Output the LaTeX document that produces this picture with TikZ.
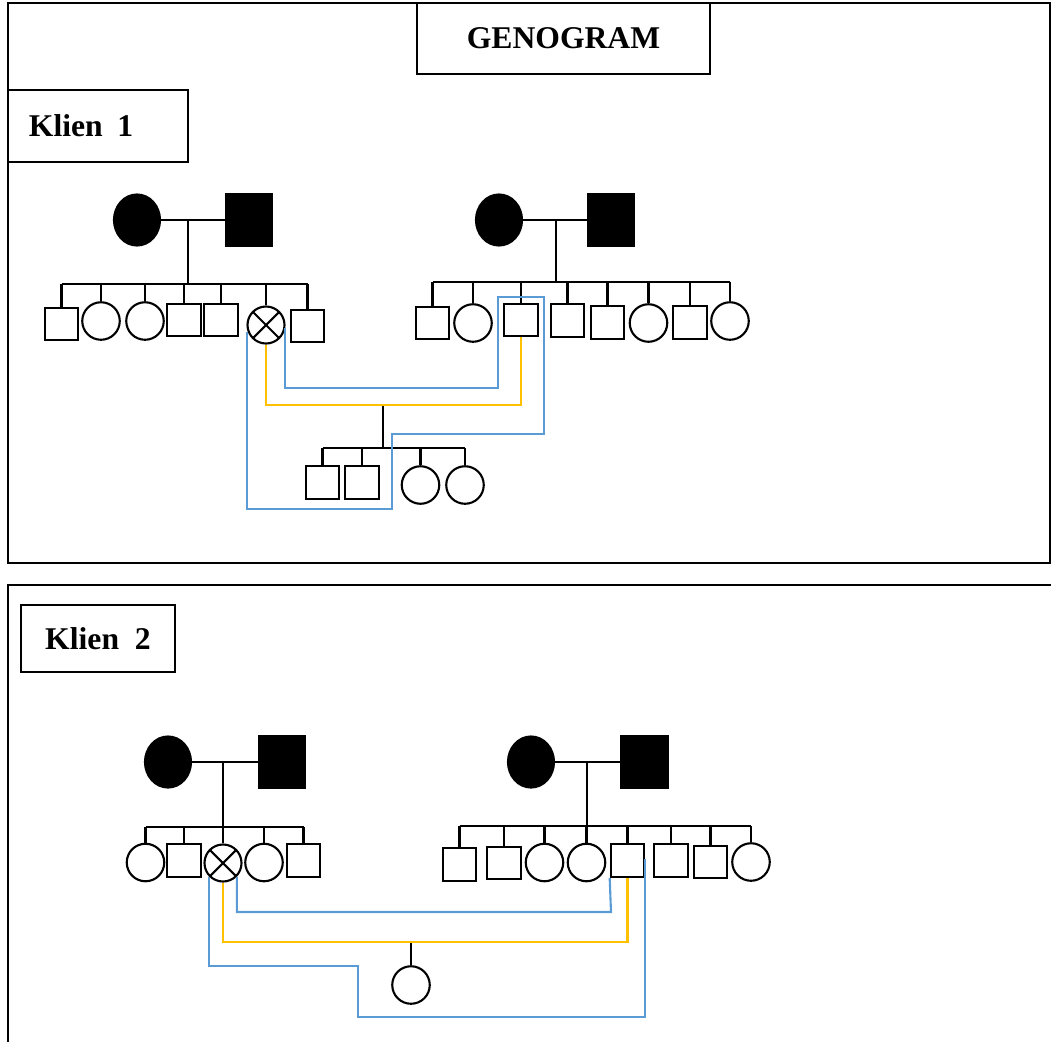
\documentclass[tikz,border=0pt]{standalone}
\usepackage{fontspec}
\setmainfont{Liberation Serif}
\usetikzlibrary{shapes.geometric}
\definecolor{linkblue}{RGB}{91,155,213}
\definecolor{linkgold}{RGB}{255,192,0}
\tikzset{person/.style={draw, line width=0.6pt, inner sep=0pt},
    male/.style={person, rectangle, minimum width=3.35mm, minimum height=3.25mm},
    female/.style={person, circle, minimum size=3.75mm},
    deadmale/.style={person, rectangle, fill=black, minimum width=4.6mm, minimum height=5.1mm},
    deadfemale/.style={person, ellipse, fill=black, minimum width=4.6mm, minimum height=5.1mm},
    client/.style={person, circle, minimum size=3.7mm,
        path picture={\draw[line width=0.6pt]
            (path picture bounding box.north west) -- (path picture bounding box.south east)
            (path picture bounding box.north east) -- (path picture bounding box.south west);}
    },
    kin/.style={line width=0.6pt},
    household/.style={draw=linkblue, line width=0.6pt},
    marriage/.style={draw=linkgold, line width=0.6pt},
    frame/.style={line width=0.7pt},
    titlebox/.style={draw, line width=0.7pt, inner sep=0pt,
        font=\fontsize{9}{11}\selectfont\bfseries}
}
\begin{document}
\begin{tikzpicture}[x=0.01cm, y=-0.01cm]
      \useasboundingbox (0,0) rectangle (1051,1042);
      \draw[frame] (8,3) rectangle (1050,563);
      \draw[frame] (1051,585) -- (8,585) -- (8,1042);
      \node[titlebox, minimum width=29.3mm, minimum height=7.1mm] (GEN) at (563.5,38.5) {GENOGRAM};
      \node[titlebox, minimum width=18mm, minimum height=7.2mm, text width=13.8mm, align=left] (K1) at (98,126) {Klien\hspace{0.46em}1};
      \node[titlebox, minimum width=15.4mm, minimum height=6.7mm] (K2) at (98,638.5) {Klien\ \ 2};

      % Klien 1
      \node[deadfemale] (F1) at (137,220) {};
      \node[deadmale] (M1) at (249,220) {};
      \node[deadfemale] (F2) at (499,220) {};
      \node[deadmale] (M2) at (611,220) {};

      \node[male] (A1) at (61.5,324) {};
      \node[female] (A2) at (101,321) {};
      \node[female] (A3) at (145,321) {};
      \node[male] (A4) at (184,320) {};
      \node[male] (A5) at (221,320) {};
      \node[client] (A6) at (266,325) {};
      \node[male] (A7) at (307.5,326) {};

      \node[male] (B1) at (432.5,323) {};
      \node[female] (B2) at (473,323) {};
      \node[male] (B3) at (521,320) {};
      \node[male] (B4) at (567.5,320.5) {};
      \node[male] (B5) at (607.5,322.5) {};
      \node[female] (B6) at (648.5,323) {};
      \node[male] (B7) at (690,322.5) {};
      \node[female] (B8) at (730,321) {};

      \node[male] (C1) at (322.5,482.5) {};
      \node[male] (C2) at (362,482.5) {};
      \node[female] (C3) at (420.5,485) {};
      \node[female] (C4) at (465,485) {};

      \coordinate (PA) at (188,220);
      \coordinate (SA) at (0,284);
      \coordinate (PB) at (556,220);
      \coordinate (SB) at (0,282);
      \coordinate (U1) at (383,405);
      \coordinate (SC) at (0,448);
      \draw[kin] (F1) -- (M1);
      \draw[kin] (PA) -- (PA |- SA);
      \draw[kin] (A1.north |- SA) -- (A7.north |- SA);
      \draw[kin] (A1.north) -- (A1.north |- SA) (A2.north) -- (A2.north |- SA)
          (A3.north) -- (A3.north |- SA) (A4.north) -- (A4.north |- SA)
          (A5.north) -- (A5.north |- SA) (A6.north) -- (A6.north |- SA)
          (A7.north) -- (A7.north |- SA);
      \draw[kin] (F2) -- (M2);
      \draw[kin] (PB) -- (PB |- SB);
      \draw[kin] (B1.north |- SB) -- (B8.north |- SB);
      \draw[kin] (B1.north) -- (B1.north |- SB) (B2.north) -- (B2.north |- SB)
          (B3.north) -- (B3.north |- SB) (B4.north) -- (B4.north |- SB)
          (B5.north) -- (B5.north |- SB) (B6.north) -- (B6.north |- SB)
          (B7.north) -- (B7.north |- SB) (B8.north) -- (B8.north |- SB);
      \draw[kin] (U1) -- (U1 |- SC);
      \draw[kin] (C1.north |- SC) -- (C4.north |- SC);
      \draw[kin] (C1.north) -- (C1.north |- SC) (C2.north) -- (C2.north |- SC)
          (C3.north) -- (C3.north |- SC) (C4.north) -- (C4.north |- SC);

      \draw[marriage] (A6.south) |- (U1) -| (B3.south);
      \coordinate (H1) at (247,509);
      \coordinate (H2) at (392,434);
      \coordinate (H3) at (544,297);
      \coordinate (H4) at (498,388);
      \draw[household] (A6.205) -| (H1) -| (H2) -| (H3) -| (H4) -| (A6.-10);

      % Klien 2
      \node[deadfemale] (F3) at (168,762) {};
      \node[deadmale] (M3) at (282,762) {};
      \node[deadfemale] (F4) at (531,762) {};
      \node[deadmale] (M4) at (644.5,762) {};

      \node[female] (D1) at (145.5,862.5) {};
      \node[male] (D2) at (184,860.5) {};
      \node[client] (D3) at (223,863) {};
      \node[female] (D4) at (264,862.5) {};
      \node[male] (D5) at (303.5,860.5) {};

      \node[male] (E1) at (459.5,864.5) {};
      \node[male] (E2) at (504,863) {};
      \node[female] (E3) at (544.5,862.5) {};
      \node[female] (E4) at (586.5,862.5) {};
      \node[male] (E5) at (627.5,860.5) {};
      \node[male] (E6) at (671,860.5) {};
      \node[male] (E7) at (710.5,862) {};
      \node[female] (E8) at (751,862) {};

      \node[female] (G1) at (411,985) {};

      \coordinate (PD) at (223,762);
      \coordinate (SD) at (0,827);
      \coordinate (PE) at (587,762);
      \coordinate (SE) at (0,826);
      \coordinate (U2) at (411,942);
      \draw[kin] (F3) -- (M3);
      \draw[kin] (PD) -- (PD |- SD);
      \draw[kin] (D1.north |- SD) -- (D5.north |- SD);
      \draw[kin] (D1.north) -- (D1.north |- SD) (D2.north) -- (D2.north |- SD)
          (D3.north) -- (D3.north |- SD) (D4.north) -- (D4.north |- SD)
          (D5.north) -- (D5.north |- SD);
      \draw[kin] (F4) -- (M4);
      \draw[kin] (PE) -- (PE |- SE);
      \draw[kin] (E1.north |- SE) -- (E8.north |- SE);
      \draw[kin] (E1.north) -- (E1.north |- SE) (E2.north) -- (E2.north |- SE)
          (E3.north) -- (E3.north |- SE) (E4.north) -- (E4.north |- SE)
          (E5.north) -- (E5.north |- SE) (E6.north) -- (E6.north |- SE)
          (E7.north) -- (E7.north |- SE) (E8.north) -- (E8.north |- SE);
      \draw[kin] (U2) -- (G1);

      \draw[marriage] (D3.south) |- (U2) -| (E5.south);
      \coordinate (H5) at (611,912);
      \coordinate (H6) at (358,966);
      \coordinate (H7) at (645,1017);
      \draw[household] (D3.-45) |- (H5) -- (E5.south west);
      \draw[household] (D3.-135) |- (H6) |- (H7) |- (E5.east);
    \end{tikzpicture}
\end{document}
